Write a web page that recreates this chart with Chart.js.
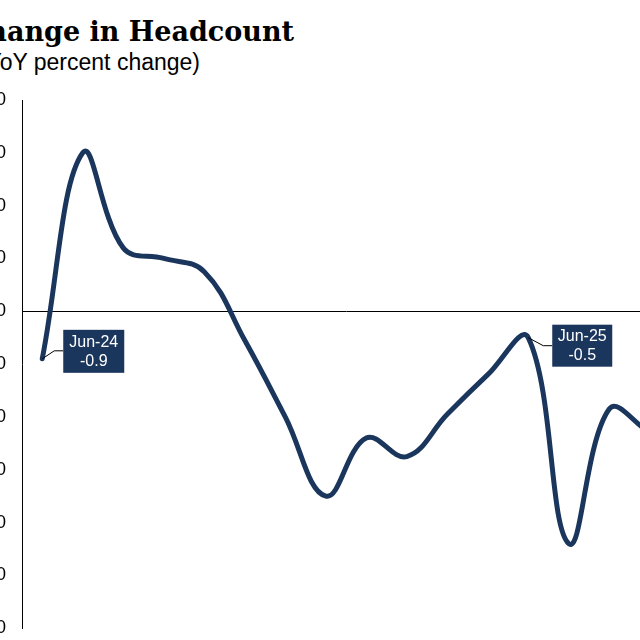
<!DOCTYPE html>
<html>
<head>
<meta charset="utf-8">
<script src="https://cdn.jsdelivr.net/npm/chart.js@4.4.1/dist/chart.umd.min.js"></script>
<style>
  html, body { margin: 0; padding: 0; background: #fff; overflow: hidden; width: 640px; height: 640px; }
  #wrap { position: relative; width: 640px; height: 640px; overflow: hidden; }
  #title { position: absolute; right: 346px; top: 16px; white-space: nowrap;
           font-family: "DejaVu Serif", "Liberation Serif", serif; font-weight: bold; font-size: 27px; color: #000; }
  #subtitle { position: absolute; right: 440px; top: 49px; white-space: nowrap;
           font-family: "Liberation Sans", Arial, sans-serif; font-size: 23px; color: #000; }
  #cv { position: absolute; left: -40px; top: 0; }
</style>
</head>
<body>
<div id="wrap">
  <div id="title">Change in Headcount</div>
  <div id="subtitle">(YoY percent change)</div>
  <canvas id="cv" width="710" height="655"></canvas>
</div>
<script>
const months = ["Jun-24","Jul-24","Aug-24","Sep-24","Oct-24","Nov-24","Dec-24","Jan-25","Feb-25","Mar-25","Apr-25","May-25","Jun-25","Jul-25","Aug-25","Sep-25"];
const headcountYoY = [-0.9, 3.0, 1.2, 1.0, 0.75, -0.55, -2.0, -3.5, -2.4, -2.75, -1.95, -1.2, -0.5, -4.4, -1.85, -2.3];
const yTicksMin = -6;
const yTicksMax = 4;
const annotated = ["Jun-24", "Jun-25"];

const navy = "#1b365d";

const annotationPlugin = {
  id: "calloutBoxes",
  afterDatasetsDraw(chart) {
    const ctx = chart.ctx;
    const xs = chart.scales.x, ys = chart.scales.y;
    const styles = {
      "Jun-24": { dx: 21, dy: -29, w: 61, h: 43, elbowX: 12, elbowY: -8 },
      "Jun-25": { dx: 24, dy: -13, w: 60, h: 42, elbowX: 15, elbowY: 8 }
    };
    annotated.forEach(lbl => {
      const i = months.indexOf(lbl);
      const v = headcountYoY[i];
      const px = xs.getPixelForValue(i);
      const py = ys.getPixelForValue(v);
      const s = styles[lbl];
      ctx.save();
      ctx.strokeStyle = "#000";
      ctx.lineWidth = 1;
      ctx.beginPath();
      ctx.moveTo(px, py);
      ctx.lineTo(px + s.elbowX, py + s.elbowY);
      ctx.lineTo(px + s.dx, py + s.elbowY);
      ctx.stroke();
      ctx.fillStyle = navy;
      ctx.fillRect(px + s.dx, py + s.dy, s.w, s.h);
      ctx.fillStyle = "#fff";
      ctx.font = "16px 'Liberation Sans', Arial, sans-serif";
      ctx.textAlign = "center";
      ctx.textBaseline = "middle";
      const cx = px + s.dx + s.w / 2;
      ctx.fillText(lbl, cx, py + s.dy + s.h * 0.29);
      ctx.fillText(v.toFixed(1), cx, py + s.dy + s.h * 0.73);
      ctx.restore();
    });
  }
};

new Chart(document.getElementById("cv"), {
  type: "line",
  data: {
    labels: months,
    datasets: [{
      data: headcountYoY,
      borderColor: navy,
      borderWidth: 5,
      pointRadius: 0,
      tension: 0.4,
      fill: false,
      borderCapStyle: "round",
      borderJoinStyle: "round"
    }]
  },
  options: {
    responsive: false,
    animation: false,
    layout: { padding: { top: 100, bottom: 0, left: 0, right: 0 } },
    plugins: { legend: { display: false }, tooltip: { enabled: false } },
    scales: {
      x: {
        display: false,
        offset: true
      },
      y: {
        min: yTicksMin,
        max: yTicksMax,
        afterFit(scale) { scale.width = 62; },
        border: { display: true, color: "#000", width: 1 },
        grid: {
          drawTicks: false,
          color: c => (c.tick && c.tick.value === 0) ? "#000" : "rgba(0,0,0,0)",
          lineWidth: 1
        },
        ticks: {
          stepSize: 1,
          padding: 16,
          color: "#000",
          font: { family: "'Liberation Sans', Arial, sans-serif", size: 18 },
          callback: v => Number(v).toFixed(1)
        }
      }
    }
  },
  plugins: [annotationPlugin]
});
</script>
</body>
</html>
